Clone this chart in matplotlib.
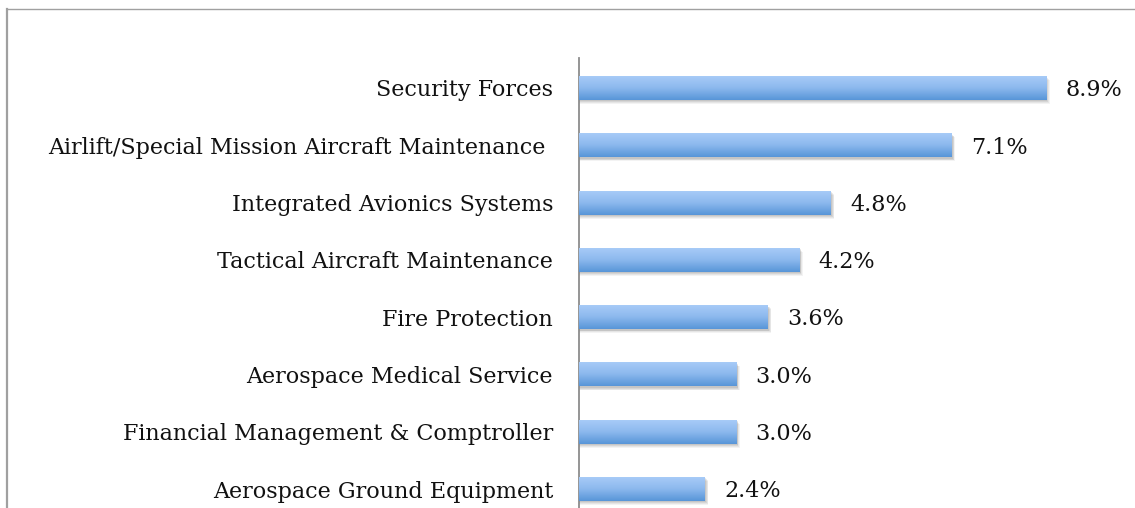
import matplotlib
matplotlib.use("Agg")
import matplotlib.pyplot as plt
import numpy as np
from matplotlib.lines import Line2D
from matplotlib.colors import LinearSegmentedColormap
from matplotlib.patches import Rectangle

categories = ["Security Forces",
              "Airlift/Special Mission Aircraft Maintenance ",
              "Integrated Avionics Systems",
              "Tactical Aircraft Maintenance",
              "Fire Protection",
              "Aerospace Medical Service",
              "Financial Management & Comptroller",
              "Aerospace Ground Equipment"]
values = [8.9, 7.1, 4.8, 4.2, 3.6, 3.0, 3.0, 2.4]

W, H = 1135, 508
fig = plt.figure(figsize=(W / 100, H / 100), dpi=100)
plt.rcParams['font.family'] = ['DejaVu Serif']
FS = 16

ax_left, ax_top, ax_bottom, ax_right = 579, 58, 508, 1135
ax = fig.add_axes([ax_left / W, 1 - ax_bottom / H, (ax_right - ax_left) / W, (ax_bottom - ax_top) / H])
ax.set_xlim(0, (ax_right - ax_left) / 52.5)
ax.set_ylim(7 + 19 / 57.3, -30 / 57.3)

cmap = LinearSegmentedColormap.from_list("g", ["#a9ccf8", "#8db9ee", "#5896d8"])
grad = np.linspace(0, 1, 64).reshape(-1, 1)
bh = 0.42
pos = np.arange(len(categories))
bars = ax.barh(pos, values, height=bh, color="none", edgecolor="none", zorder=3)
for b, v in zip(bars, values):
    y0 = b.get_y()
    for k, a in [(0.07, 0.07), (0.055, 0.09), (0.04, 0.11), (0.025, 0.13)]:
        ax.add_patch(Rectangle((0, y0 + k), v + k * 0.9, bh, facecolor="#5a5a5a", alpha=a,
                               edgecolor="none", zorder=2))
    im = ax.imshow(grad, extent=(0, v, y0 + bh, y0), cmap=cmap, aspect="auto", zorder=3,
                   interpolation="bilinear")
    im.set_clip_path(b)
    ax.text(v + 19 / 52.5, b.get_y() + bh / 2 + 0.04, f"{v:.1f}%", va="center", ha="left",
            fontsize=FS, color="#111111")

ax.set_yticks(pos)
ax.set_yticklabels(categories, fontsize=FS, color="#111111")
ax.tick_params(axis="y", length=0, pad=18.7)
ax.set_xticks([])
for s in ["top", "right", "bottom"]:
    ax.spines[s].set_visible(False)
ax.spines["left"].set_color("#8c8c8c")
ax.spines["left"].set_linewidth(1.3)
ax.set_facecolor("none")

fig.add_artist(Line2D([6.5 / W, 6.5 / W], [0, 1 - 9 / H], transform=fig.transFigure,
                      color="#a0a0a0", lw=1.6))
fig.add_artist(Line2D([6.5 / W, 1], [1 - 9 / H, 1 - 9 / H], transform=fig.transFigure,
                      color="#a0a0a0", lw=1.0))

fig.savefig("out.png", dpi=100)
